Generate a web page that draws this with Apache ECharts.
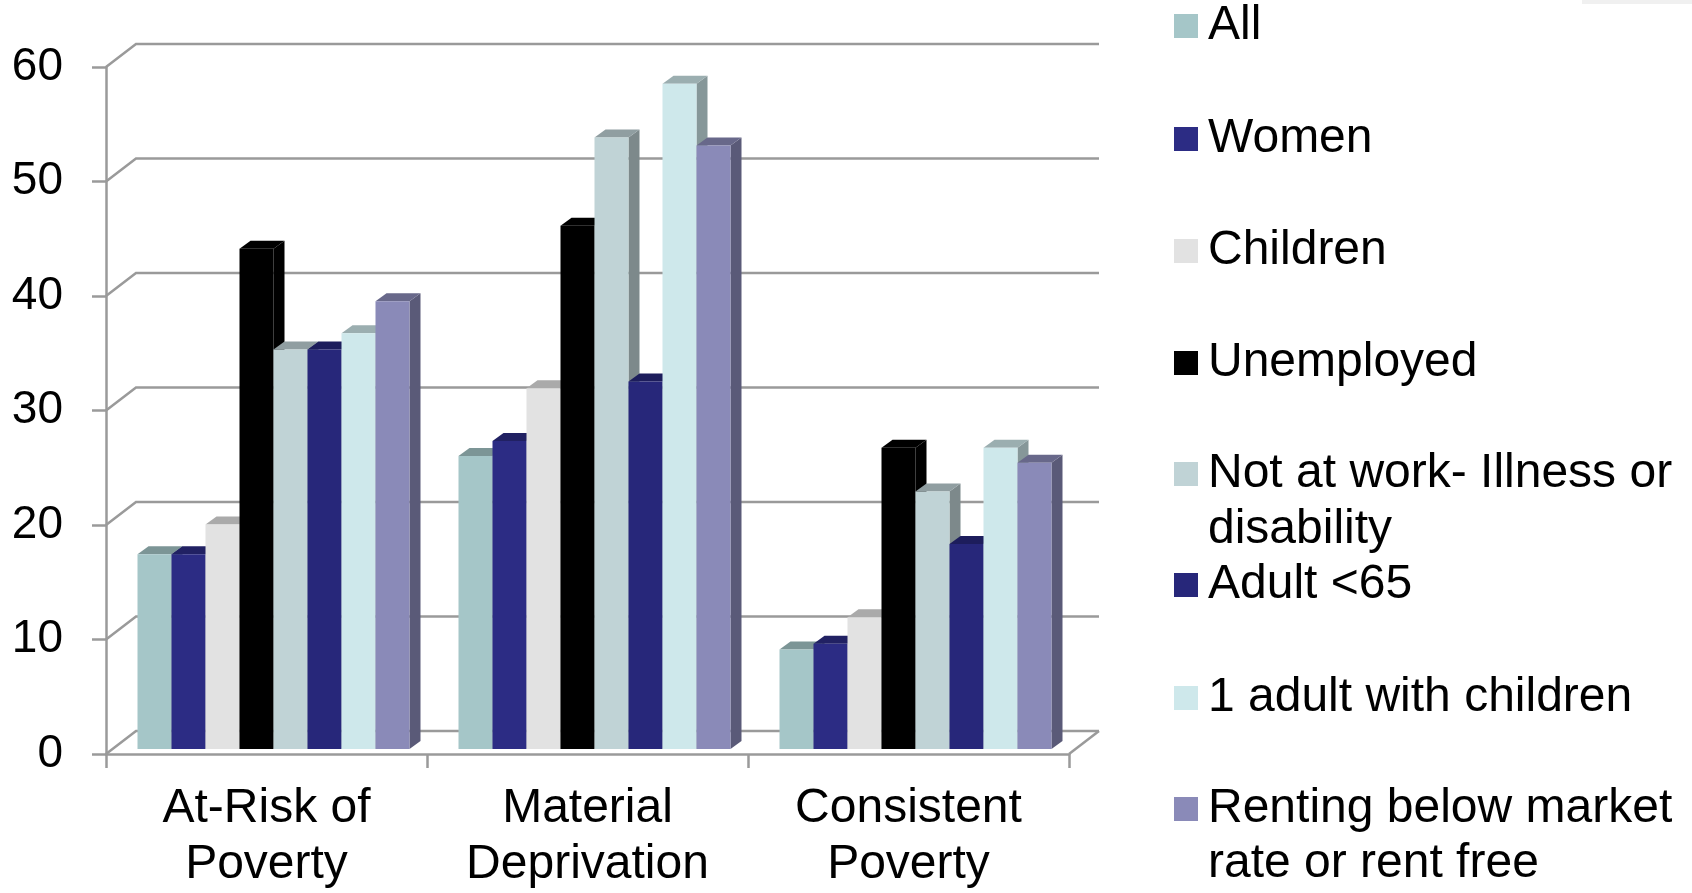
<!DOCTYPE html>
<html>
<head>
<meta charset="utf-8">
<script src="https://cdn.jsdelivr.net/npm/echarts@6/dist/echarts.min.js"></script>
<style>html,body{margin:0;padding:0;background:#fff}#c{width:1692px;height:893px}</style>
</head>
<body>
<div id="c"></div>
<script>
// ---- data ----
const categories = ['At-Risk of\nPoverty', 'Material\nDeprivation', 'Consistent\nPoverty'];
const seriesNames = ['All', 'Women', 'Children', 'Unemployed', 'Not at work- Illness or disability', 'Adult <65', '1 adult with children', 'Renting below market rate or rent free'];
const allVals        = [17.0, 25.6, 8.7];
const womenVals      = [17.0, 26.9, 9.2];
const childrenVals   = [19.6, 31.5, 11.5];
const unemployedVals = [43.7, 45.7, 26.3];
const notAtWorkVals  = [34.9, 53.4, 22.5];
const adultVals      = [34.9, 32.1, 17.9];
const oneAdultVals   = [36.3, 58.1, 26.3];
const rentingVals    = [39.1, 52.7, 25.0];
const yTicks = [0, 10, 20, 30, 40, 50, 60];

// ---- styles ----
const seriesValues = [allVals, womenVals, childrenVals, unemployedVals, notAtWorkVals, adultVals, oneAdultVals, rentingVals];
const colors = ['#A5C6C8', '#2C2C84', '#E2E2E2', '#000000', '#C0D3D6', '#27277A', '#CEE8EB', '#8A8AB8'];
const legendFirstLine = {
  'Not at work- Illness or disability': 'Not at work- Illness or',
  'Renting below market rate or rent free': 'Renting below market'
};
const legendCenters = [26, 139, 251, 363, 474, 585, 698, 809];
const FONT = 'Liberation Sans, Arial, sans-serif';
const GRAY = '#9a9a9a';

function shade(hex, f) {
  const n = parseInt(hex.slice(1), 16);
  const r = Math.round(((n >> 16) & 255) * f), g = Math.round(((n >> 8) & 255) * f), b = Math.round((n & 255) * f);
  return 'rgb(' + r + ',' + g + ',' + b + ')';
}

const WALL_DX = 30, WALL_DY = -23;   // back wall offset
const BAR_DX = 7, BAR_DY = -5;       // bar front plane offset
const DEP_DX = 11, DEP_DY = -8;      // bar depth
const BAR_FRAC = 34 / 321;

function barRender(si) {
  const col = colors[si];
  return function (params, api) {
    const ci = api.value(0), v = api.value(1);
    const base = api.coord([ci, 0]);
    const topP = api.coord([ci, v]);
    const band = api.size([1, 0])[0];
    const bw = band * BAR_FRAC;
    const x = base[0] - 4 * bw + si * bw + BAR_DX;
    const yb = base[1] + BAR_DY;
    const yt = topP[1] + BAR_DY;
    return {
      type: 'group',
      children: [
        { type: 'polygon', shape: { points: [[x + bw, yt], [x + bw + DEP_DX, yt + DEP_DY], [x + bw + DEP_DX, yb + DEP_DY], [x + bw, yb]] }, style: { fill: shade(col, 0.65) } },
        { type: 'polygon', shape: { points: [[x, yt], [x + DEP_DX, yt + DEP_DY], [x + bw + DEP_DX, yt + DEP_DY], [x + bw, yt]] }, style: { fill: shade(col, 0.75) } },
        { type: 'rect', shape: { x: x, y: yt, width: bw, height: yb - yt }, style: { fill: col } }
      ]
    };
  };
}

function wallRender(params, api) {
  const cs = params.coordSys;
  const v = api.value(1);
  const y = api.coord([0, v])[1];
  const x0 = cs.x, x1 = cs.x + cs.width;
  const children = [
    { type: 'polyline', shape: { points: [[x0, y], [x0 + WALL_DX, y + WALL_DY], [x1 + WALL_DX, y + WALL_DY]] }, style: { stroke: GRAY, lineWidth: 2.5, fill: null } }
  ];
  if (v === 0) {
    children.push({ type: 'line', shape: { x1: x1, y1: y, x2: x1 + WALL_DX, y2: y + WALL_DY }, style: { stroke: GRAY, lineWidth: 2.5 } });
  }
  return { type: 'group', children: children };
}

const series = [{
  type: 'custom',
  name: 'walls',
  silent: true,
  z: 1,
  renderItem: wallRender,
  data: yTicks.map(t => [0, t])
}];
seriesNames.forEach((nm, i) => {
  series.push({
    type: 'custom',
    name: nm,
    z: 2,
    itemStyle: { color: colors[i] },
    renderItem: barRender(i),
    data: seriesValues[i].map((v, ci) => [ci, v])
  });
});

const legends = seriesNames.map((nm, i) => ({
  data: [nm],
  orient: 'vertical',
  left: 1174,
  top: legendCenters[i] - 26,
  padding: 0,
  icon: 'rect',
  itemWidth: 24,
  itemHeight: 24,
  selectedMode: false,
  formatter: n => legendFirstLine[n] || n,
  textStyle: { fontFamily: FONT, fontSize: 48, lineHeight: 52, color: '#000', padding: [0, 0, 0, 5] }
}));

const chart = echarts.init(document.getElementById('c'));
chart.setOption({
  animation: false,
  backgroundColor: '#fff',
  grid: { left: 106, right: 623, top: 67, bottom: 135 },
  legend: legends,
  xAxis: {
    type: 'category',
    data: categories,
    axisLine: { lineStyle: { color: GRAY, width: 2.5 } },
    axisTick: { show: true, length: 14, lineStyle: { color: GRAY, width: 2.5 } },
    axisLabel: { fontFamily: FONT, fontSize: 48, lineHeight: 56, color: '#000', margin: 27, interval: 0 },
    splitLine: { show: false }
  },
  yAxis: {
    type: 'value',
    min: 0, max: 60, interval: 10,
    axisLine: { show: true, lineStyle: { color: GRAY, width: 2.5 } },
    axisTick: { show: true, length: 14, lineStyle: { color: GRAY, width: 2.5 } },
    axisLabel: { fontFamily: FONT, fontSize: 46, color: '#000', margin: 43 },
    splitLine: { show: false }
  },
  graphic: [
    { type: 'text', x: 1208, y: 530, style: { text: 'disability', fontFamily: FONT, fontSize: 48, fill: '#000', verticalAlign: 'middle' } },
    { type: 'text', x: 1208, y: 864, style: { text: 'rate or rent free', fontFamily: FONT, fontSize: 48, fill: '#000', verticalAlign: 'middle' } },
    { type: 'rect', shape: { x: 1582, y: 0, width: 110, height: 4 }, style: { fill: '#f0f0f0' } }
  ],
  series: series
});
</script>
</body>
</html>
